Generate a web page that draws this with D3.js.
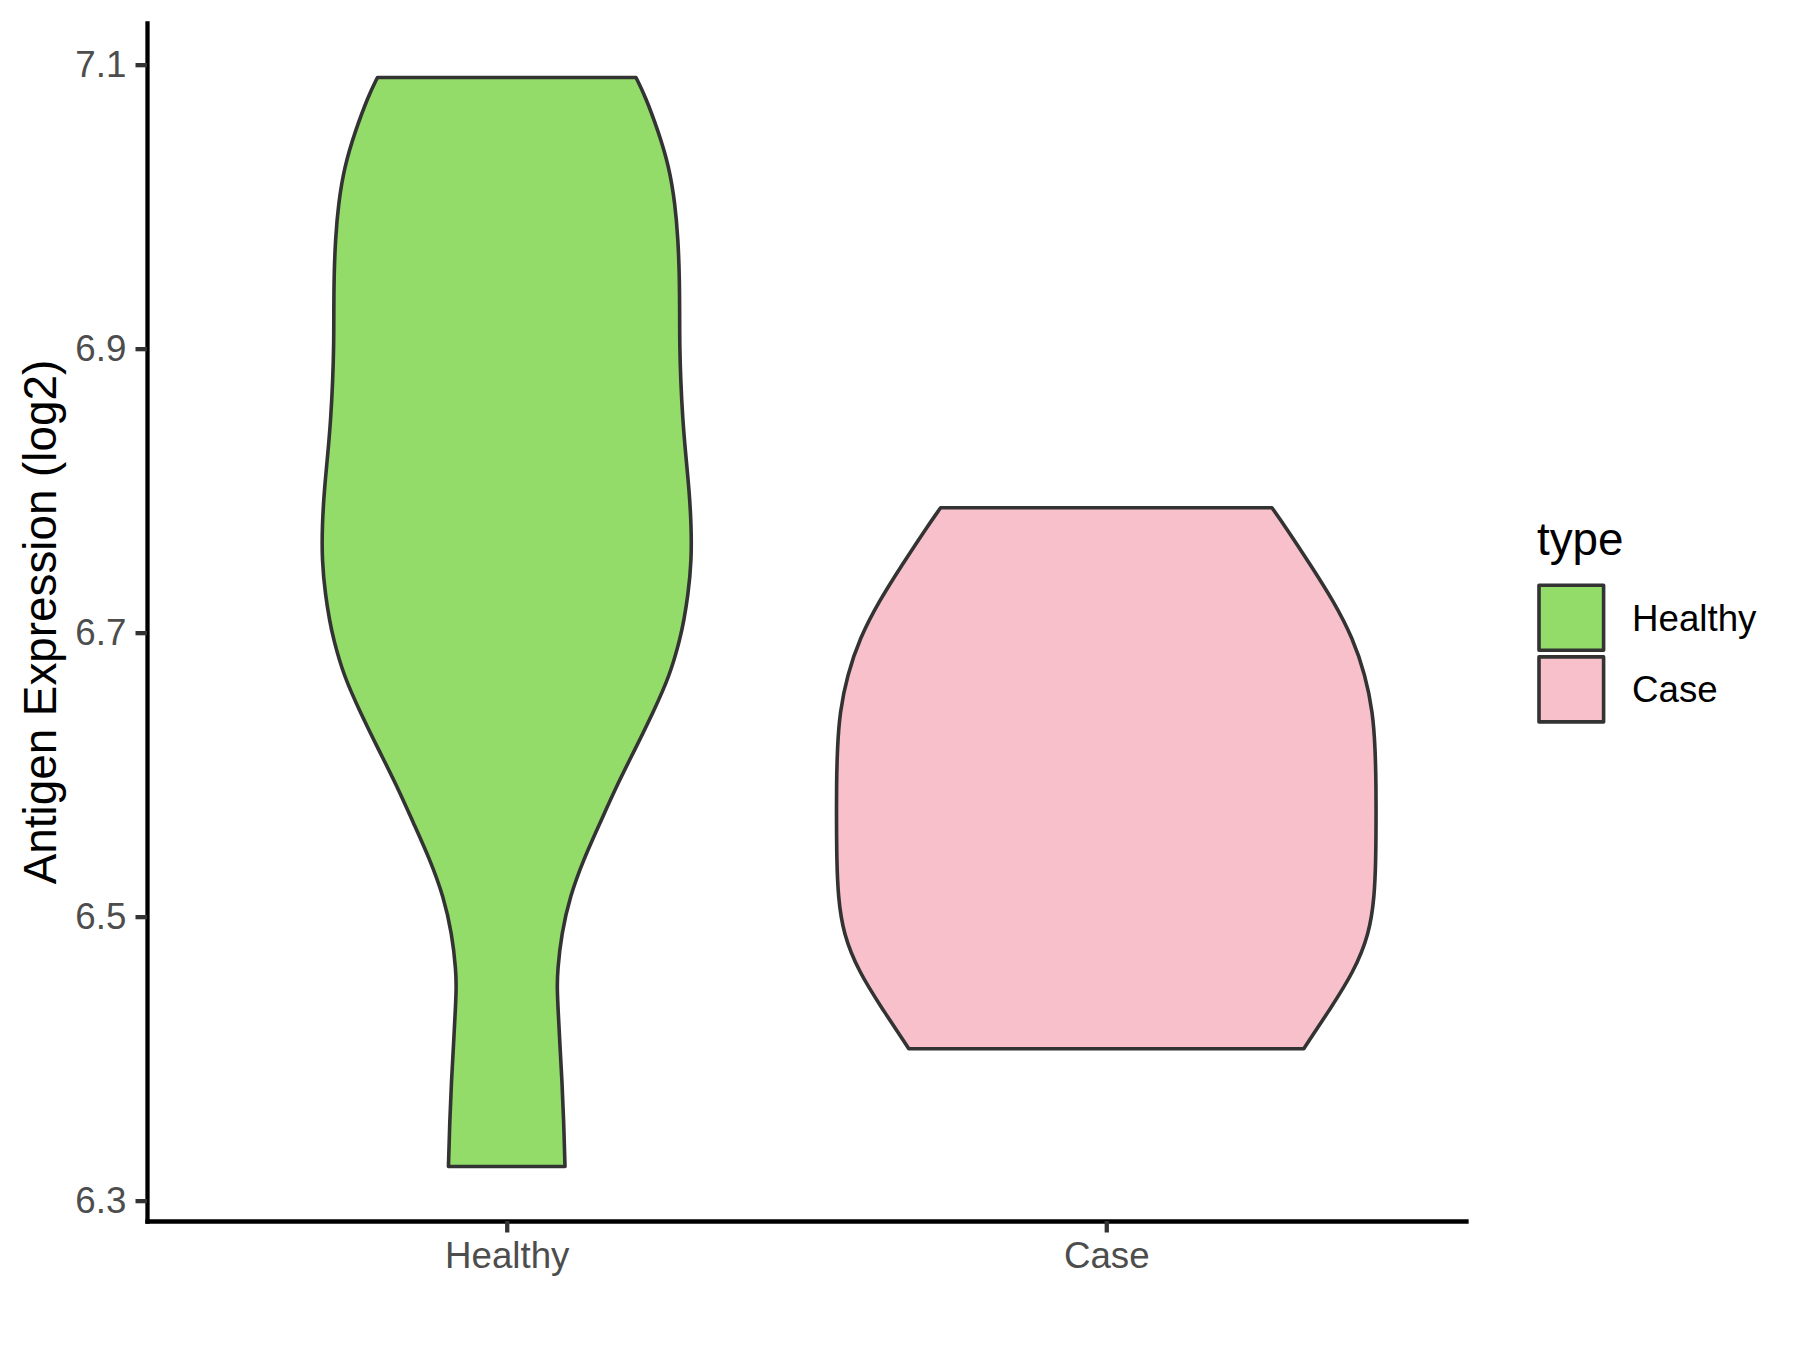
<!DOCTYPE html>
<html>
<head>
<meta charset="utf-8">
<script src="https://cdn.jsdelivr.net/npm/d3@7"></script>
<style>
    body { margin: 0; background: #fff; }
    svg text { font-family: 'Liberation Sans', Arial, sans-serif; }
</style>
</head>
<body>
<div id="graph0"></div>
<script>

// ------- data -------------------------------

var categories = ['Healthy', 'Case'];
var fills = ['#93DC6A', '#F7C0CB'];
var yTicks = [6.3, 6.5, 6.7, 6.9, 7.1];

// violin outlines: expression value and relative density (widest violin = 1)
var healthyY = [7.091, 7.078, 7.053, 7.028, 7.002, 6.977, 6.952, 6.927, 6.902, 6.877, 6.851,
    6.826, 6.801, 6.776, 6.751, 6.726, 6.708, 6.696, 6.670, 6.644, 6.618, 6.592, 6.566,
    6.540, 6.514, 6.488, 6.462, 6.449, 6.436, 6.410, 6.384, 6.357, 6.324];
var healthyDensity = [0.479, 0.513, 0.562, 0.602, 0.624, 0.635, 0.640, 0.641, 0.641, 0.645, 0.652,
    0.663, 0.676, 0.684, 0.685, 0.672, 0.656, 0.643, 0.605, 0.543, 0.476, 0.407, 0.346,
    0.284, 0.234, 0.203, 0.188, 0.187, 0.190, 0.197, 0.205, 0.211, 0.216];

var caseY = [6.788, 6.774, 6.748, 6.722, 6.696, 6.670, 6.644, 6.618, 6.592, 6.566, 6.540,
    6.514, 6.488, 6.461, 6.435, 6.407];
var caseDensity = [0.614, 0.666, 0.756, 0.843, 0.914, 0.960, 0.988, 0.997, 1.000, 1.000, 0.999,
    0.994, 0.975, 0.917, 0.830, 0.732];

var violins = [
    { type: 'Healthy', y: healthyY, d: healthyDensity },
    { type: 'Case', y: caseY, d: caseDensity }
];

// ------- SVG --------

var width = 1800, height = 1350;
var margin = { top: 23, right: 334, bottom: 129, left: 147 };

var svg = d3.select('#graph0').html('')
    .append('svg')
    .attr('width', width)
    .attr('height', height)

var allY = healthyY.concat(caseY);
var lo = d3.min(allY), hi = d3.max(allY), pad = (hi - lo) * 0.05;

var y = d3.scaleLinear()
    .domain([lo - pad, hi + pad])
    .range([height - margin.bottom, margin.top]);

var x = d3.scalePoint()
    .domain(categories)
    .range([margin.left, width - margin.right])
    .padding(0.6);

var color = d3.scaleOrdinal().domain(categories).range(fills);

// half width of the widest violin = 0.45 of a category step
var w = d3.scaleLinear().domain([0, 1]).range([0, x.step() * 0.45]);

// ------- violins --------

violins.forEach(function(v) {
    var pts = v.y.map(function(val, i) { return { y: val, d: v.d[i] }; });
    var area = d3.area()
        .curve(d3.curveBasis)
        .y(function(p) { return y(p.y); })
        .x0(function(p) { return x(v.type) - w(p.d); })
        .x1(function(p) { return x(v.type) + w(p.d); });

    svg.append('path')
        .datum(pts)
        .attr('d', area)
        .style('fill', color(v.type))
        .style('stroke', '#333333')
        .style('stroke-width', 3.6)
        .style('stroke-linejoin', 'round')
})

// ------- axes --------

var yAxis = svg.append('g')
    .attr('transform', 'translate(' + margin.left + ',0)')
    .call(d3.axisLeft(y).tickValues(yTicks).tickFormat(d3.format('.1f'))
        .tickSize(11.5).tickSizeOuter(0).tickPadding(9.2));

var xAxis = svg.append('g')
    .attr('transform', 'translate(0,' + (height - margin.bottom) + ')')
    .call(d3.axisBottom(x).tickSize(11.5).tickSizeOuter(0).tickPadding(9.2));

svg.selectAll('.domain')
    .style('stroke', '#000')
    .style('stroke-width', 4.3)
    .style('stroke-linecap', 'square')

svg.selectAll('.tick line')
    .style('stroke', '#333333')
    .style('stroke-width', 4.3)

svg.selectAll('.tick text')
    .style('fill', '#4D4D4D')
    .style('font-size', '36.7px')

xAxis.selectAll('.tick text').attr('dy', null).attr('y', 47);

svg.append('text')
    .attr('transform', 'translate(56,' + ((margin.top + height - margin.bottom) / 2) + ')rotate(-90)')
    .style('text-anchor', 'middle')
    .style('font-size', '45.8px')
    .style('fill', '#000')
    .text('Antigen Expression (log2)')

// ------- legend --------

var legend = svg.append('g').attr('transform', 'translate(1537,0)')

legend.append('text')
    .attr('x', 0)
    .attr('y', 555)
    .style('font-size', '45.8px')
    .style('fill', '#000')
    .text('type')

var key = legend.selectAll('.key')
    .data(categories)
    .enter()
    .append('g')
    .attr('class', 'key')
    .attr('transform', function(d, i) { return 'translate(0,' + (583.5 + i * 71.7) + ')'; })

key.append('rect')
    .attr('x', 2)
    .attr('y', 1.7)
    .attr('width', 64.6)
    .attr('height', 65)
    .style('fill', function(d) { return color(d); })
    .style('stroke', '#333333')
    .style('stroke-width', 3.6)
    .style('stroke-linejoin', 'round')

key.append('text')
    .attr('x', 95)
    .attr('y', 47)
    .style('font-size', '36.7px')
    .style('fill', '#000')
    .text(function(d) { return d; })

</script>
</body>
</html>
